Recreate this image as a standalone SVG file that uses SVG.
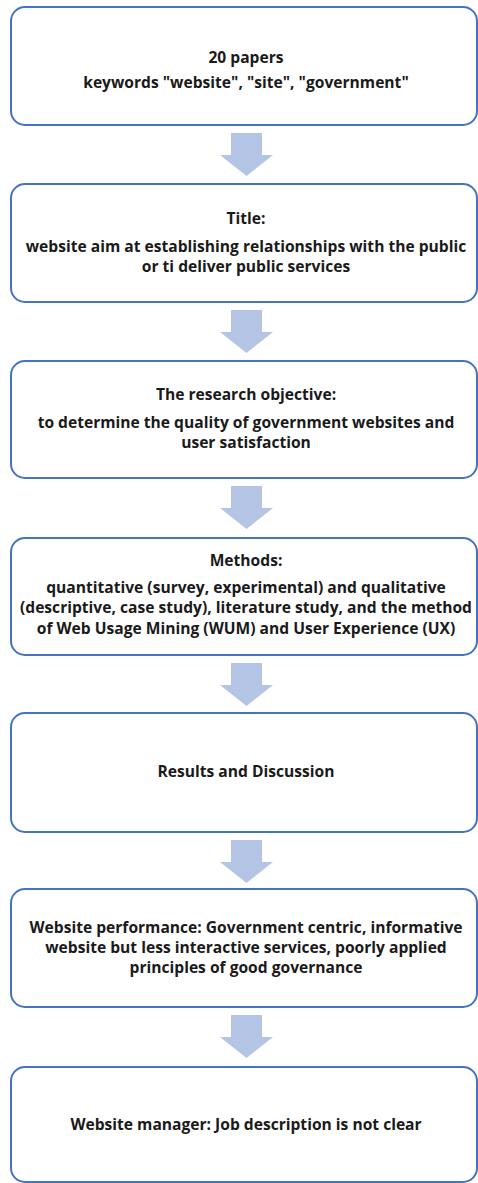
<svg xmlns="http://www.w3.org/2000/svg" width="478" height="1183" viewBox="0 0 478 1183">
  <style>
    .box { fill: #ffffff; stroke: #4472C4; stroke-width: 2; }
    .arrow { fill: #B4C4E4; }
    text { font-family: "Open Sans", "Liberation Sans", sans-serif; font-weight: bold; font-size: 15.6px; fill: #1a1a1a; text-anchor: middle; }
  </style>
  <defs>
    <!-- block arrow pointing down, tip at (0,0) -->
    <path id="down" d="M -15.5 -43 H 15.5 V -21 H 26.5 L 0 0 L -26.5 -21 H -15.5 Z"/>
  </defs>
  <rect width="478" height="1183" fill="#ffffff"/>

  <g id="connectors">
    <use href="#down" class="arrow" x="246.5" y="176"/>
    <use href="#down" class="arrow" x="246.5" y="353"/>
    <use href="#down" class="arrow" x="246.5" y="529"/>
    <use href="#down" class="arrow" x="246.5" y="706"/>
    <use href="#down" class="arrow" x="246.5" y="883"/>
    <use href="#down" class="arrow" x="246.5" y="1058"/>
  </g>

  <g id="papers">
    <rect class="box" x="11" y="7" width="466" height="118" rx="14"/>
    <text x="246" y="63">20 papers</text>
    <text x="246" y="88">keywords "website", "site", "government"</text>
  </g>

  <g id="title">
    <rect class="box" x="11" y="184" width="466" height="118" rx="14"/>
    <text x="246" y="224">Title:</text>
    <text x="246" y="252">website aim at  establishing relationships with the public</text>
    <text x="246" y="272">or ti deliver public services</text>
  </g>

  <g id="objective">
    <rect class="box" x="11" y="361" width="466" height="117" rx="14"/>
    <text x="246" y="400">The research objective:</text>
    <text x="246" y="428">to determine the quality of government websites and</text>
    <text x="246" y="448">user satisfaction</text>
  </g>

  <g id="methods">
    <rect class="box" x="11" y="538" width="466" height="117" rx="14"/>
    <text x="246" y="566">Methods:</text>
    <text x="246" y="593">quantitative (survey, experimental) and qualitative</text>
    <text x="246" y="613">(descriptive, case study), literature study, and the method</text>
    <text x="246" y="634">of Web Usage Mining (WUM) and User Experience (UX)</text>
  </g>

  <g id="results">
    <rect class="box" x="11" y="713" width="466" height="119" rx="14"/>
    <text x="246" y="777">Results and Discussion</text>
  </g>

  <g id="performance">
    <rect class="box" x="11" y="889" width="466" height="118" rx="14"/>
    <text x="246" y="933">Website performance: Government centric, informative</text>
    <text x="246" y="953">website but less interactive services, poorly applied</text>
    <text x="246" y="973">principles of good governance</text>
  </g>

  <g id="manager">
    <rect class="box" x="11" y="1067" width="466" height="115" rx="14"/>
    <text x="246" y="1130">Website manager: Job description is not clear</text>
  </g>
</svg>
